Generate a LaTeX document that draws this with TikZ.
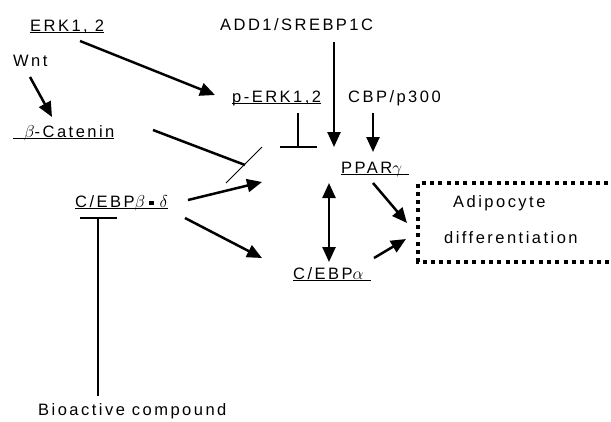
\documentclass[tikz,border=0pt]{standalone}
\usepackage{fontspec}
\setmainfont{Liberation Sans}[LetterSpace=15]
\usetikzlibrary{arrows.meta,calc}
\newcommand\undl[1]{\underline{\smash{#1}}}
\newcommand\sqdot{\hspace{4pt}\rule[2pt]{4.5pt}{4pt}\hspace{6pt}}
\tikzset{
  lbl/.style={anchor=base west, inner sep=0pt, font=\fontsize{16.5}{19}\selectfont},
  act/.style={line width=2.5pt, -{Triangle[length=15pt,width=13pt]}},
  dbl/.style={line width=2.5pt, {Triangle[length=15pt,width=13pt]}-{Triangle[length=15pt,width=13pt]}},
  inh/.style={line width=2.5pt},
  barline/.style={line width=1.5pt},
  dotbox/.style={line width=4pt, dash pattern=on 4pt off 4.3pt}
}
\begin{document}
\begin{tikzpicture}[x=1pt,y=-1pt]
% \draw [help lines] (0,0) grid (611,421) ;
\useasboundingbox (0,0) rectangle (611,421);

\node[lbl] (erk)    at (30,31)   {\undl{ERK1, 2}};
\node[lbl] (add)    at (220,30)  {ADD1/SREBP1C};
\node[lbl] (wnt)    at (13,66)   {Wnt};
\node[lbl] (perk)   at (232,102) {\undl{p-ERK1,2}};
\node[lbl] (cbp)    at (348,102) {CBP/p300};
\node[lbl] (cat)    at (13,137)  {\undl{\hspace*{11pt}$\beta$-Catenin}};
\node[lbl] (ppar)   at (341,173) {\undl{PPAR$\gamma$\ }};
\node[lbl] (cebpbd) at (75,207)  {\undl{C/EBP$\beta$\sqdot$\delta$}};
\node[lbl] (cebpa)  at (293,279) {\undl{C/EBP$\alpha$\ }};
\node[lbl] (adipo)  at (453,207) {Adipocyte};
\node[lbl] (diff)   at (444,243) {differentiation};
\node[lbl] (bio)    at (38,415)  {Bioactive compound};

\coordinate (hub)    at (262,182);
\coordinate (catbar) at (245,165);
\coordinate (boxtl)  at (418,183);
\coordinate (boxbl)  at (418,262);

% activations
\draw[act] ($(erk.base west)+(50,10)$) -- ($(perk.base west)+(-17,-7)$);
\draw[act] ($(wnt.base west)+(17,11)$) -- ($(cat.base west)+(39,-20)$);
\draw[act] ($(add.base west)+(114,12)$) -- ($(ppar.base west)+(-7,-26)$);
\draw[act] ($(cbp.base west)+(25,11)$) -- ($(ppar.base west)+(32,-21)$);
\draw[act] ($(cebpbd.base west)+(113,-7)$) -- (hub);
\draw[act] ($(cebpbd.base west)+(110,11)$) -- ($(cebpa.base west)+(-31,-21)$);
\draw[dbl] ($(ppar.base west)+(-12,10)$) -- ($(cebpa.base west)+(36,-17)$);
\draw[act] ($(ppar.base west)+(32,10)$) -- ($(boxtl)+(-11,40)$);
\draw[act] ($(cebpa.base west)+(81,-21)$) -- ($(boxbl)+(-12,-23)$);

% inhibitions
\draw[inh] ($(perk.base west)+(66,11)$) -- ($(perk.base west)+(66,45)$);
\draw[barline] ($(perk.base west)+(48,45)$) -- ($(perk.base west)+(85,45)$);
\draw[inh] ($(cat.base west)+(140,-7)$) -- (catbar);
\draw[line width=1pt] ($(catbar)+(-19,18)$) -- ($(catbar)+(17,-18)$);
\draw[inh] ($(bio.base west)+(60,-19)$) -- ($(cebpbd.base west)+(23,11)$);
\draw[barline] ($(cebpbd.base west)+(5,11)$) -- ($(cebpbd.base west)+(42,11)$);

% box
\draw[dotbox] (625,183) -- (boxtl) -- (boxbl) -- (625,262);
\end{tikzpicture}
\end{document}
